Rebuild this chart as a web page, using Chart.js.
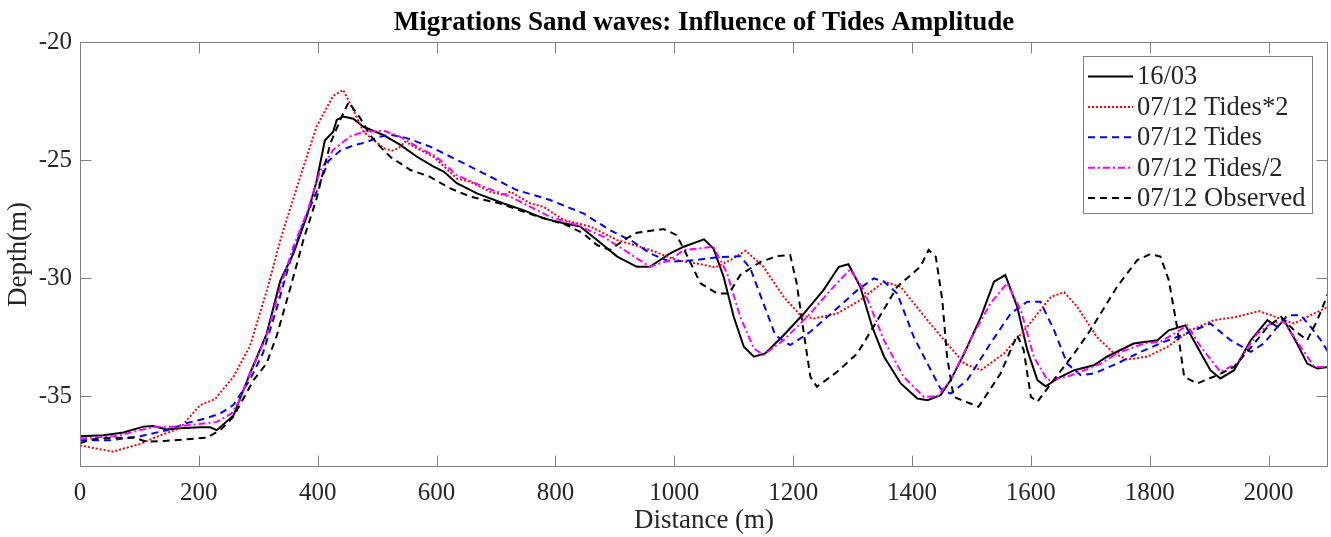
<!DOCTYPE html>
<html>
<head>
<meta charset="utf-8">
<script src="https://cdn.jsdelivr.net/npm/chart.js@4"></script>
<style>
  html, body { margin: 0; padding: 0; background: #fff; }
  #wrap { width: 1331px; height: 537px; }
</style>
</head>
<body>
<div id="wrap"><canvas id="sandChart" width="1331" height="537"></canvas></div>
<script>
// --- data (distance in m, depth in m) ---
const xTicks = [0, 200, 400, 600, 800, 1000, 1200, 1400, 1600, 1800, 2000];
const yTicks = [-35, -30, -25, -20];

const labels = ['16/03', '07/12 Tides*2', '07/12 Tides', '07/12 Tides/2', '07/12 Observed'];

// 16/03 (solid black)
const surveyX = [0,40,73,107,123,146,168,202,219,230,258,286,314,337,359,382,398,412,426,432,
  443,460,477,511,539,567,595,612,634,668,713,746,780,814,842,870,904,937,959,993,
  1016,1050,1066,1083,1100,1117,1134,1153,1184,1218,1251,1277,1293,1313,1333,1353,1381,1409,1426,1448,
  1465,1488,1516,1538,1557,1577,1594,1611,1625,1645,1673,1706,1728,1773,1813,1832,1860,1880,1902,1919,
  1942,1970,1998,2015,2026,2048,2065,2082,2100];
const surveyY = [-36.70,-36.66,-36.54,-36.29,-36.26,-36.41,-36.36,-36.32,-36.32,-36.44,-35.83,-34.04,-32.37,-30.12,-28.96,-27.36,-25.91,-24.17,-23.80,-23.30,
  -23.16,-23.25,-23.59,-23.94,-24.36,-24.86,-25.28,-25.49,-25.98,-26.41,-26.84,-27.12,-27.47,-27.68,-27.82,-28.39,-29.09,-29.52,-29.52,-28.95,
  -28.67,-28.36,-28.75,-29.94,-31.64,-32.91,-33.33,-33.19,-32.42,-31.50,-30.51,-29.52,-29.41,-30.37,-32.06,-33.33,-34.46,-35.10,-35.17,-34.96,
  -34.32,-33.19,-31.64,-30.15,-29.87,-31.21,-33.05,-34.32,-34.58,-34.25,-33.90,-33.69,-33.33,-32.77,-32.63,-32.21,-32.00,-32.91,-33.90,-34.25,
  -33.90,-32.63,-31.78,-32.07,-31.78,-32.77,-33.62,-33.83,-33.76];

// 07/12 Tides*2 (red dotted)
const tides2X = [0,56,101,135,168,202,227,258,286,314,339,370,398,426,443,460,477,494,511,525,
  536,547,567,595,634,657,690,713,724,758,780,814,859,904,959,1004,1044,1069,1094,1120,
  1150,1184,1212,1235,1274,1313,1353,1381,1426,1459,1488,1516,1555,1594,1634,1656,1678,1711,1740,1762,
  1796,1830,1869,1908,1947,1984,2004,2026,2043,2071,2100];
const tides2Y = [-37.09,-37.35,-37.02,-36.66,-36.36,-35.38,-35.13,-34.19,-32.88,-30.56,-28.23,-25.76,-23.59,-22.28,-22.03,-22.88,-23.80,-24.15,-24.50,-24.60,
  -24.50,-24.22,-24.50,-24.86,-25.78,-25.92,-26.34,-26.48,-26.34,-26.84,-26.98,-27.54,-27.82,-28.39,-28.80,-29.24,-29.41,-29.55,-29.24,-28.84,
  -29.52,-30.79,-31.57,-31.71,-31.50,-30.93,-30.15,-30.37,-31.78,-32.77,-33.62,-33.90,-33.19,-32.06,-30.79,-30.60,-31.21,-32.49,-33.19,-33.45,
  -33.33,-32.91,-32.21,-31.78,-31.64,-31.40,-31.57,-31.78,-31.92,-31.57,-31.21];

// 07/12 Tides (blue dashed)
const tidesX = [0,51,101,146,180,213,236,258,286,308,331,354,376,398,418,438,460,483,502,522,
  550,589,634,679,735,791,847,892,931,959,993,1033,1072,1111,1128,1150,1170,1195,1229,1274,
  1308,1336,1353,1375,1403,1426,1448,1465,1493,1532,1566,1594,1616,1639,1661,1684,1706,1745,1785,1824,
  1869,1902,1936,1970,1992,2015,2032,2054,2071,2088,2100];
const tidesY = [-36.87,-36.87,-36.70,-36.44,-36.14,-35.93,-35.73,-35.38,-34.30,-33.17,-31.28,-29.25,-27.65,-26.35,-25.04,-24.60,-24.38,-24.24,-24.02,-23.93,
  -24.07,-24.43,-24.99,-25.56,-26.27,-26.69,-27.26,-27.97,-28.46,-28.95,-29.31,-29.24,-29.12,-29.07,-29.59,-31.07,-32.42,-32.84,-32.27,-31.28,
  -30.51,-30.01,-30.15,-30.65,-32.49,-33.62,-34.68,-34.89,-34.32,-32.77,-31.50,-31.00,-31.00,-32.20,-33.62,-34.11,-34.04,-33.62,-33.12,-32.70,
  -32.28,-31.92,-32.63,-33.12,-32.77,-32.07,-31.57,-31.57,-32.07,-32.63,-33.12];

// 07/12 Tides/2 (magenta dash-dot)
const tidesHalfX = [0,62,123,157,208,230,255,269,286,314,337,359,382,404,426,455,477,511,533,567,
  600,634,679,724,758,791,836,881,920,959,993,1016,1044,1066,1089,1111,1134,1150,1184,1229,
  1263,1296,1319,1353,1386,1420,1443,1465,1498,1532,1560,1583,1605,1628,1661,1690,1718,1745,1790,1818,
  1846,1863,1886,1919,1947,1981,2004,2026,2054,2077,2100];
const tidesHalfY = [-36.79,-36.69,-36.30,-36.30,-36.16,-36.09,-35.73,-35.17,-34.04,-32.44,-30.41,-28.67,-27.22,-25.47,-24.57,-24.00,-23.80,-23.76,-23.94,-24.43,
  -24.86,-25.64,-26.13,-26.55,-26.98,-27.40,-27.75,-28.25,-28.88,-29.52,-29.24,-28.81,-28.74,-28.67,-29.80,-31.64,-32.98,-33.26,-32.63,-31.50,
  -30.51,-29.63,-30.51,-32.63,-34.18,-35.03,-35.00,-34.32,-32.63,-31.07,-30.22,-31.35,-33.33,-34.32,-34.18,-33.90,-33.62,-33.19,-32.77,-32.70,
  -32.28,-32.00,-32.91,-33.97,-33.62,-32.35,-31.92,-31.85,-32.91,-33.76,-33.76];

// 07/12 Observed (black dashed)
const observedX = [0,28,90,112,146,213,236,258,292,314,331,354,376,398,421,438,452,471,488,505,
  522,556,589,623,657,707,763,819,847,870,892,915,937,982,1004,1021,1044,1072,1092,1111,
  1145,1173,1195,1206,1218,1229,1240,1274,1308,1342,1375,1414,1428,1440,1451,1459,1470,1498,1512,1549,
  1577,1588,1600,1611,1634,1673,1700,1745,1779,1801,1818,1832,1846,1858,1880,1914,1942,1976,1998,2021,
  2043,2065,2082,2100];
const observedY = [-36.98,-36.79,-36.75,-36.93,-36.89,-36.76,-36.44,-35.88,-34.32,-33.61,-32.44,-30.41,-28.38,-26.64,-24.31,-23.30,-22.55,-23.20,-23.94,-24.43,
  -24.86,-25.42,-25.71,-26.20,-26.55,-26.84,-27.33,-27.75,-28.11,-28.60,-28.81,-28.39,-28.08,-27.92,-28.18,-29.02,-30.22,-30.65,-30.65,-29.87,
  -29.31,-29.07,-29.02,-30.22,-32.34,-34.18,-34.60,-33.97,-33.19,-31.78,-30.37,-29.52,-28.81,-29.09,-30.93,-33.33,-35.03,-35.31,-35.45,-34.04,
  -32.41,-33.05,-35.03,-35.24,-34.46,-33.19,-32.21,-30.37,-29.24,-28.98,-29.09,-30.08,-32.07,-34.18,-34.46,-34.11,-33.76,-32.77,-32.07,-31.64,
  -32.21,-32.63,-31.78,-30.65];

const serif = '"Liberation Serif", "Times New Roman", serif';
const textColor = '#262626';
const axisColor = '#808080';

function toPoints(xs, ys) {
    return xs.map((x, i) => ({ x: x, y: ys[i] }));
}

function makeSet(label, xs, ys, color, dash, order) {
    return {
        label: label,
        data: toPoints(xs, ys),
        borderColor: color,
        borderWidth: 2,
        borderDash: dash,
        borderCapStyle: 'butt',
        pointRadius: 0,
        tension: 0,
        fill: false,
        order: order // matlab draws the last line on top
    };
}

// box, inward ticks, title and legend drawn like the matlab figure
const matlabAxes = {
    id: 'matlabAxes',
    afterDraw(chart) {
        const { ctx, chartArea: a, scales: { x, y } } = chart;
        const L = Math.round(a.left) + 0.5, R = Math.round(a.right) - 0.5;
        const T = Math.round(a.top) + 0.5, B = Math.round(a.bottom) - 0.5;
        ctx.save();
        ctx.strokeStyle = axisColor;
        ctx.lineWidth = 1;
        ctx.strokeRect(L, T, R - L, B - T);
        ctx.beginPath();
        xTicks.forEach(v => {
            const px = Math.round(x.getPixelForValue(v)) + 0.5;
            ctx.moveTo(px, B); ctx.lineTo(px, B - 11);
            ctx.moveTo(px, T); ctx.lineTo(px, T + 11);
        });
        yTicks.forEach(v => {
            const py = Math.round(y.getPixelForValue(v)) + 0.5;
            ctx.moveTo(L, py); ctx.lineTo(L + 11, py);
            ctx.moveTo(R, py); ctx.lineTo(R - 11, py);
        });
        ctx.stroke();

        // title
        ctx.fillStyle = '#000';
        ctx.font = 'bold 27px ' + serif;
        ctx.textAlign = 'center';
        ctx.textBaseline = 'alphabetic';
        ctx.fillText('Migrations Sand waves: Influence of Tides Amplitude', (a.left + a.right) / 2, 30);

        // legend
        const bx = 1083.5, by = 56.5, bw = 229, bh = 157;
        ctx.fillStyle = '#fff';
        ctx.fillRect(bx, by, bw, bh);
        ctx.strokeStyle = axisColor;
        ctx.strokeRect(bx, by, bw, bh);
        ctx.font = '26.5px ' + serif;
        ctx.textAlign = 'left';
        ctx.textBaseline = 'middle';
        chart.data.datasets.forEach((ds, i) => {
            const ly = 76.5 + i * 30.4;
            ctx.beginPath();
            ctx.strokeStyle = ds.borderColor;
            ctx.lineWidth = ds.borderWidth;
            ctx.setLineDash(ds.borderDash || []);
            ctx.moveTo(1088, ly);
            ctx.lineTo(1133, ly);
            ctx.stroke();
            ctx.setLineDash([]);
            ctx.fillStyle = textColor;
            ctx.fillText(ds.label, 1137, ly + 1);
        });
        ctx.restore();
    }
};

const ctx = document.getElementById('sandChart');
new Chart(ctx, {
    type: 'line',
    data: {
        datasets: [
            makeSet(labels[0], surveyX, surveyY, '#000000', [], 4),
            makeSet(labels[1], tides2X, tides2Y, '#ff0000', [2, 2], 3),
            makeSet(labels[2], tidesX, tidesY, '#0000ff', [7, 5], 2),
            makeSet(labels[3], tidesHalfX, tidesHalfY, '#ff00ff', [7, 3, 2, 3], 1),
            makeSet(labels[4], observedX, observedY, '#000000', [7, 5], 0)
        ]
    },
    options: {
        responsive: false,
        animation: false,
        layout: { padding: { top: 42, right: 3, left: 0, bottom: 0 } },
        plugins: {
            legend: { display: false },
            title: { display: false },
            tooltip: { enabled: false }
        },
        scales: {
            x: {
                type: 'linear',
                min: 0,
                max: 2100,
                afterBuildTicks: s => { s.ticks = xTicks.map(v => ({ value: v })); },
                afterFit: s => { s.height = 70; },
                grid: { display: false, drawTicks: false },
                border: { display: false },
                ticks: {
                    color: textColor,
                    font: { family: serif, size: 25 },
                    padding: 11,
                    maxRotation: 0,
                    autoSkip: false,
                    callback: v => String(v)
                },
                title: {
                    display: true,
                    text: 'Distance (m)',
                    color: textColor,
                    font: { family: serif, size: 27 },
                    padding: { top: 0, bottom: 0 }
                }
            },
            y: {
                type: 'linear',
                min: -38,
                max: -20,
                afterBuildTicks: s => { s.ticks = yTicks.map(v => ({ value: v })); },
                afterFit: s => { s.width = 80; },
                grid: { display: false, drawTicks: false },
                border: { display: false },
                ticks: {
                    color: textColor,
                    font: { family: serif, size: 25 },
                    padding: 8,
                    callback: v => String(v)
                },
                title: {
                    display: true,
                    text: 'Depth(m)',
                    color: textColor,
                    font: { family: serif, size: 27 },
                    padding: { top: 3, bottom: 0 }
                }
            }
        }
    },
    plugins: [matlabAxes]
});
</script>
</body>
</html>
